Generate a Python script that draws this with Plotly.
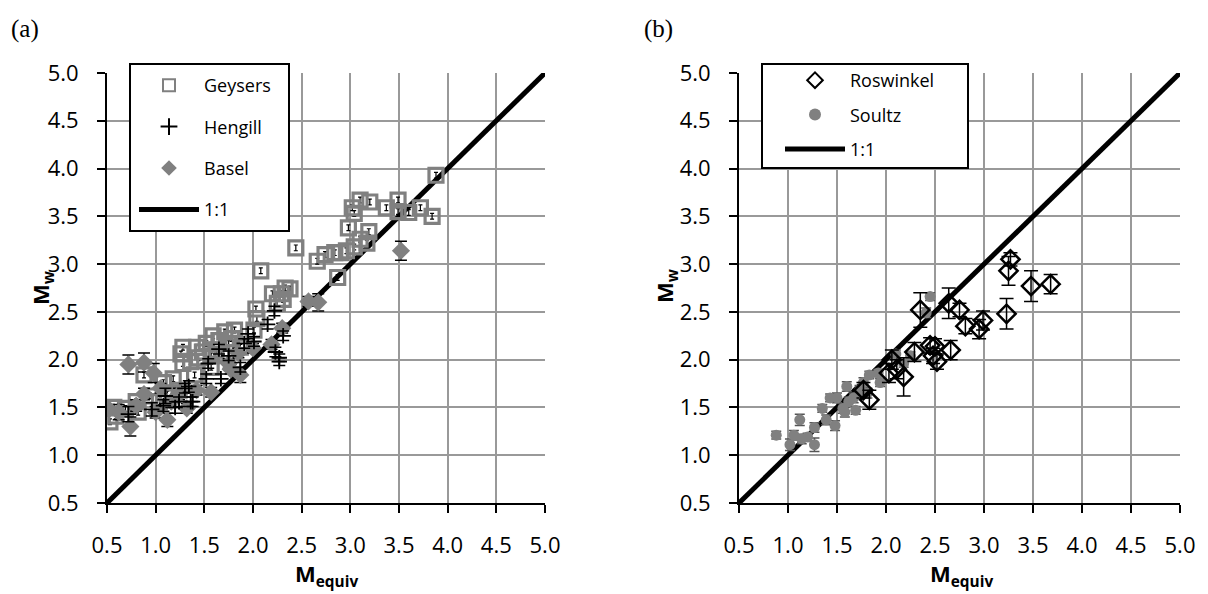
import plotly.graph_objects as go

# ---------------- data: panel (a) ----------------
geysers_x = [3.88, 3.84, 3.72, 3.60, 3.49, 3.49, 3.37, 3.20, 3.10, 3.04, 3.02, 2.98, 3.19, 3.17,
             3.10, 3.04, 2.96, 2.90, 2.84, 2.74, 2.66, 2.87, 2.44, 2.08, 2.38, 2.33, 2.29, 2.20,
             2.25, 2.31, 2.03, 2.04, 2.01, 1.81, 1.71, 1.59, 1.52, 1.42, 1.28, 1.26, 1.28, 1.44,
             1.57, 1.75, 1.87, 1.57, 1.40, 1.18, 1.08, 0.88, 0.94, 0.80, 0.82, 0.69, 0.59, 0.53,
             0.57, 1.04, 1.12, 1.24, 1.62, 1.68, 1.36, 1.48, 1.65, 1.78]
geysers_y = [3.93, 3.50, 3.59, 3.54, 3.67, 3.55, 3.59, 3.65, 3.67, 3.53, 3.59, 3.38, 3.34, 3.22,
             3.26, 3.18, 3.14, 3.12, 3.12, 3.10, 3.03, 2.86, 3.17, 2.93, 2.74, 2.75, 2.69, 2.69,
             2.59, 2.63, 2.53, 2.43, 2.31, 2.31, 2.29, 2.25, 2.17, 2.13, 2.13, 2.06, 1.96, 2.02,
             2.04, 2.17, 2.13, 1.92, 1.84, 1.80, 1.76, 1.84, 1.62, 1.56, 1.45, 1.49, 1.41, 1.35,
             1.50, 1.56, 1.64, 1.68, 2.10, 2.05, 1.98, 2.08, 2.20, 2.22]
geysers_err = [0.03] * len(geysers_x)

hengill_x = [0.72, 0.96, 1.24, 1.36, 1.34, 1.52, 1.54, 1.75, 1.87, 1.95, 2.01, 2.15, 2.22, 2.27,
             2.27, 2.23, 2.31, 1.20, 1.08, 1.91, 1.65, 1.67, 1.38, 1.10, 1.30]
hengill_y = [1.43, 1.48, 1.56, 1.56, 1.72, 1.80, 1.96, 2.04, 1.92, 2.27, 2.19, 2.37, 2.51, 2.02,
             1.98, 2.08, 2.25, 1.50, 1.52, 2.17, 2.11, 1.80, 1.56, 1.62, 1.70]
hengill_err = [0.08, 0.07, 0.05, 0.05, 0.06, 0.05, 0.05, 0.05, 0.05, 0.05, 0.05, 0.05, 0.05, 0.04,
               0.04, 0.05, 0.05, 0.06, 0.06, 0.05, 0.05, 0.05, 0.05, 0.08, 0.05]

basel_x = [0.72, 0.88, 0.98, 0.74, 1.12, 1.00, 0.52, 1.42, 1.57, 1.75, 1.77, 1.87, 1.85, 2.00,
           2.19, 2.30, 2.57, 2.67, 3.52, 1.16, 1.24, 1.32, 0.88, 0.80, 0.62, 1.05]
basel_y = [1.95, 1.97, 1.86, 1.30, 1.37, 1.45, 1.48, 1.68, 1.66, 1.96, 1.90, 1.84, 2.07, 2.12,
           2.16, 2.33, 2.61, 2.60, 3.14, 1.56, 1.64, 1.49, 1.64, 1.52, 1.45, 1.70]
basel_err = [0.10, 0.10, 0.10, 0.10, 0.07, 0.06, 0.05, 0.05, 0.05, 0.05, 0.05, 0.08, 0.05, 0.05,
             0.05, 0.05, 0.05, 0.09, 0.10, 0.06, 0.06, 0.05, 0.06, 0.06, 0.08, 0.05]

# ---------------- data: panel (b) ----------------
roswinkel_x = [3.68, 3.48, 3.27, 3.25, 3.23, 2.99, 2.95, 2.81, 2.75, 2.64, 2.66, 2.35, 2.45, 2.50,
               2.48, 2.52, 2.29, 2.18, 2.11, 2.03, 2.06, 1.83, 1.77]
roswinkel_y = [2.79, 2.77, 3.05, 2.93, 2.48, 2.41, 2.32, 2.35, 2.52, 2.59, 2.10, 2.52, 2.15, 2.14,
               2.04, 1.98, 2.08, 1.82, 1.90, 1.86, 2.00, 1.58, 1.68]
roswinkel_err = [0.10, 0.16, 0.07, 0.15, 0.16, 0.10, 0.10, 0.08, 0.07, 0.16, 0.10, 0.18, 0.08, 0.08,
                 0.08, 0.08, 0.10, 0.20, 0.10, 0.10, 0.10, 0.10, 0.08]

soultz_x = [0.88, 1.02, 1.06, 1.12, 1.14, 1.20, 1.27, 1.27, 1.35, 1.43, 1.39, 1.48, 1.50, 1.56,
            1.60, 1.62, 1.58, 1.69, 1.77, 1.83, 1.81, 1.92, 1.94, 2.10, 2.18, 2.25, 2.41, 2.45,
            1.73, 1.67]
soultz_y = [1.21, 1.11, 1.21, 1.37, 1.17, 1.19, 1.29, 1.11, 1.49, 1.60, 1.37, 1.31, 1.60, 1.49,
            1.72, 1.56, 1.45, 1.47, 1.76, 1.84, 1.65, 1.86, 1.76, 2.06, 1.96, 2.04, 2.49, 2.66,
            1.68, 1.60]
soultz_err = [0.04, 0.06, 0.05, 0.06, 0.05, 0.04, 0.05, 0.07, 0.04, 0.04, 0.05, 0.05, 0.05, 0.05,
              0.05, 0.05, 0.05, 0.04, 0.05, 0.04, 0.05, 0.04, 0.04, 0.04, 0.04, 0.04, 0.05, 0.04,
              0.05, 0.05]

one_to_one = [0.5, 5.0]
tick_vals = [0.5, 1.0, 1.5, 2.0, 2.5, 3.0, 3.5, 4.0, 4.5, 5.0]
tick_text = ["0.5", "1.0", "1.5", "2.0", "2.5", "3.0", "3.5", "4.0", "4.5", "5.0"]

GRAY = "#808080"
W, H = 1200, 586      # figure is placed at (8, 8) in the page
OFF = 8


def px(x):
    return (x - OFF) / W


def py(y):
    return 1 - (y - OFF) / H


fig = go.Figure()

# panel (a)
fig.add_trace(go.Scatter(x=one_to_one, y=one_to_one, mode="lines", name="1:1",
                         line=dict(color="black", width=5), xaxis="x", yaxis="y",
                         legend="legend", legendrank=4, legendgroup="a4"))
fig.add_trace(go.Scatter(x=geysers_x, y=geysers_y, mode="markers", name="Geysers",
                         marker=dict(symbol="square-open", size=14, color=GRAY, line=dict(width=3.2, color=GRAY)),
                         error_y=dict(type="data", array=geysers_err, color="black", thickness=1.2, width=2),
                         xaxis="x", yaxis="y", legend="legend", legendrank=1, legendgroup="a1"))
fig.add_trace(go.Scatter(x=basel_x, y=basel_y, mode="markers", name="Basel",
                         marker=dict(symbol="diamond", size=14, color=GRAY),
                         error_y=dict(type="data", array=basel_err, color="black", thickness=1.5, width=6),
                         xaxis="x", yaxis="y", legend="legend", legendrank=3, legendgroup="a3"))
fig.add_trace(go.Scatter(x=hengill_x, y=hengill_y, mode="markers", name="Hengill",
                         marker=dict(symbol="cross-thin", size=11, color="black", line=dict(width=1.8, color="black")),
                         error_y=dict(type="data", array=hengill_err, color="black", thickness=1.5, width=6),
                         xaxis="x", yaxis="y", legend="legend", legendrank=2, legendgroup="a2"))

# panel (b)
fig.add_trace(go.Scatter(x=one_to_one, y=one_to_one, mode="lines", name="1:1",
                         line=dict(color="black", width=5), xaxis="x2", yaxis="y2",
                         legend="legend2", legendrank=3, legendgroup="b3"))
fig.add_trace(go.Scatter(x=soultz_x, y=soultz_y, mode="markers", name="Soultz",
                         marker=dict(symbol="circle", size=11, color=GRAY),
                         error_y=dict(type="data", array=soultz_err, color="#555555", thickness=1.5, width=5),
                         xaxis="x2", yaxis="y2", legend="legend2", legendrank=2, legendgroup="b2"))
fig.add_trace(go.Scatter(x=roswinkel_x, y=roswinkel_y, mode="markers", name="Roswinkel",
                         marker=dict(symbol="diamond-open", size=14, color="black", line=dict(width=2.5, color="black")),
                         error_y=dict(type="data", array=roswinkel_err, color="black", thickness=1.5, width=7),
                         xaxis="x2", yaxis="y2", legend="legend2", legendrank=1, legendgroup="b1"))

ax_common = dict(range=[0.5, 5.0], tickvals=tick_vals, ticktext=tick_text, automargin=False,
                 showgrid=True, gridcolor="#999999", gridwidth=2,
                 showline=True, linecolor="black", linewidth=2,
                 ticks="outside", ticklen=8, tickwidth=2, tickcolor="black",
                 zeroline=False, tickfont=dict(family="Open Sans", size=22, color="black"))
x_common = dict(ticklabelstandoff=14, **ax_common)
y_common = dict(ticklabelstandoff=14, **ax_common)

ydom = [py(503), py(73)]
leg_font = dict(family="Open Sans", size=18, color="black")
title_font = dict(family="Open Sans", size=22, color="black")
fig.update_layout(
    width=W, height=H, autosize=False,
    margin=dict(l=0, r=0, t=0, b=0, autoexpand=False),
    paper_bgcolor="white", plot_bgcolor="white",
    xaxis=dict(domain=[px(107), px(545)], anchor="y", **x_common),
    yaxis=dict(domain=ydom, anchor="x", **y_common),
    xaxis2=dict(domain=[px(739), px(1180)], anchor="y2", **x_common),
    yaxis2=dict(domain=ydom, anchor="x2", **y_common),
    legend=dict(x=px(134), y=py(67), xanchor="left", yanchor="top",
                bgcolor="rgba(0,0,0,0)", borderwidth=0, itemwidth=60, itemsizing="constant",
                tracegroupgap=15, font=leg_font),
    legend2=dict(x=px(780), y=py(62), xanchor="left", yanchor="top",
                 bgcolor="rgba(0,0,0,0)", borderwidth=0, itemwidth=60, itemsizing="constant",
                 tracegroupgap=8, font=leg_font),
    shapes=[
        dict(type="rect", xref="paper", yref="paper", x0=px(130), x1=px(289),
             y0=py(231), y1=py(64), line=dict(color="black", width=2),
             fillcolor="white", layer="above"),
        dict(type="rect", xref="paper", yref="paper", x0=px(762), x1=px(968),
             y0=py(168), y1=py(64), line=dict(color="black", width=2),
             fillcolor="white", layer="above"),
    ],
    annotations=[
        dict(text="(a)", x=px(9), y=py(13), xref="paper", yref="paper", xanchor="left", yanchor="top",
             showarrow=False, font=dict(family="Liberation Serif", size=25, color="black")),
        dict(text="(b)", x=px(642), y=py(13), xref="paper", yref="paper", xanchor="left", yanchor="top",
             showarrow=False, font=dict(family="Liberation Serif", size=25, color="black")),
        dict(text="<b>M<sub>w</sub></b>", x=px(42), y=py(288), xref="paper", yref="paper",
             xanchor="center", yanchor="middle",
             textangle=-90, showarrow=False, font=title_font),
        dict(text="<b>M<sub>w</sub></b>", x=px(666), y=py(286), xref="paper", yref="paper",
             xanchor="center", yanchor="middle",
             textangle=-90, showarrow=False, font=title_font),
        dict(text="<b>M<sub>equiv</sub></b>", x=px(326), y=py(575), xref="paper", yref="paper",
             xanchor="center", yanchor="middle", showarrow=False, font=title_font),
        dict(text="<b>M<sub>equiv</sub></b>", x=px(961), y=py(575), xref="paper", yref="paper",
             xanchor="center", yanchor="middle", showarrow=False, font=title_font),
    ],
)

fig.write_html("out.html")
